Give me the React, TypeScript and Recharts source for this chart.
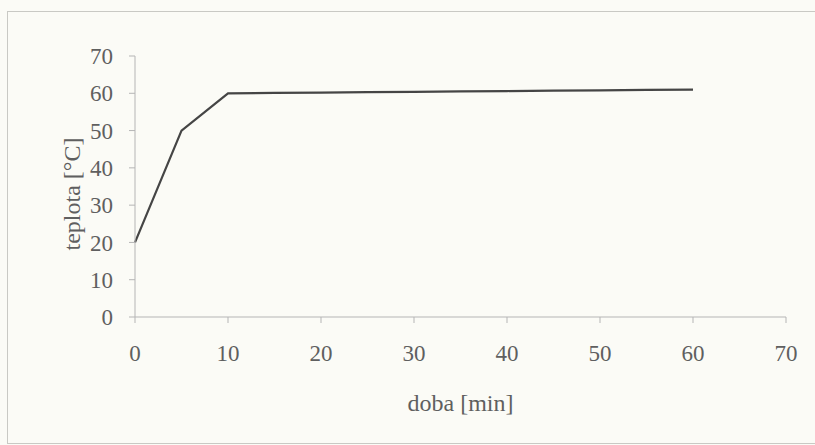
import { LineChart, Line, XAxis, YAxis, Label } from "recharts";

// doba [min]
const times = [0, 5, 10, 15, 20, 25, 30, 35, 40, 45, 50, 55, 60];
// teplota [°C]
const temps = [20, 50, 60, 60.1, 60.2, 60.3, 60.4, 60.5, 60.6, 60.7, 60.8, 60.9, 61];

const xTicks = [0, 10, 20, 30, 40, 50, 60, 70];
const yTicks = [0, 10, 20, 30, 40, 50, 60, 70];

const data = times.map((t, i) => ({ t, temp: temps[i] }));

const FONT = '"Liberation Serif", "DejaVu Serif", serif';
const TEXT = "#5f5f5f";
const AXIS = "#b5b5b5";

const YLabel = (props: any) => {
  const vb = props.viewBox;
  const cx = vb.x + 72;
  const cy = 194;
  return (
    <text
      x={cx}
      y={cy}
      transform={`rotate(-90 ${cx} ${cy})`}
      textAnchor="middle"
      dominantBaseline="central"
      fill={TEXT}
      fontSize={24}
      fontFamily={FONT}
    >
      teplota [°C]
    </text>
  );
};

export default function App() {
  return (
    <div style={{ width: 815, height: 445, position: "relative", background: "#fbfbf6" }}>
      <style>{`body { margin: 0; }`}</style>
      <div
        style={{
          position: "absolute",
          left: 7,
          top: 11,
          width: 820,
          height: 431,
          border: "1px solid #c9c9c4",
        }}
      />
      <LineChart
        width={815}
        height={445}
        data={data}
        margin={{ top: 56, right: 29, bottom: 28, left: 0 }}
        style={{ position: "absolute", left: 0, top: 0 }}
      >
        <XAxis
          dataKey="t"
          type="number"
          domain={[0, 70]}
          ticks={xTicks}
          height={100}
          stroke={AXIS}
          tickSize={6}
          tickMargin={22}
          tick={{ fill: TEXT, fontSize: 23, fontFamily: FONT }}
          tickLine={{ stroke: AXIS }}
        >
          <Label
            value="doba [min]"
            position="insideBottom"
            offset={6}
            fill={TEXT}
            fontSize={24}
            fontFamily={FONT}
          />
        </XAxis>
        <YAxis
          type="number"
          domain={[0, 70]}
          ticks={yTicks}
          width={135}
          stroke={AXIS}
          tickSize={6}
          tickMargin={16}
          tick={{ fill: TEXT, fontSize: 23, fontFamily: FONT }}
          tickLine={{ stroke: AXIS }}
        >
          <Label content={YLabel} />
        </YAxis>
        <Line
          dataKey="temp"
          type="linear"
          stroke="#454545"
          strokeWidth={2.2}
          dot={false}
          isAnimationActive={false}
        />
      </LineChart>
    </div>
  );
}
